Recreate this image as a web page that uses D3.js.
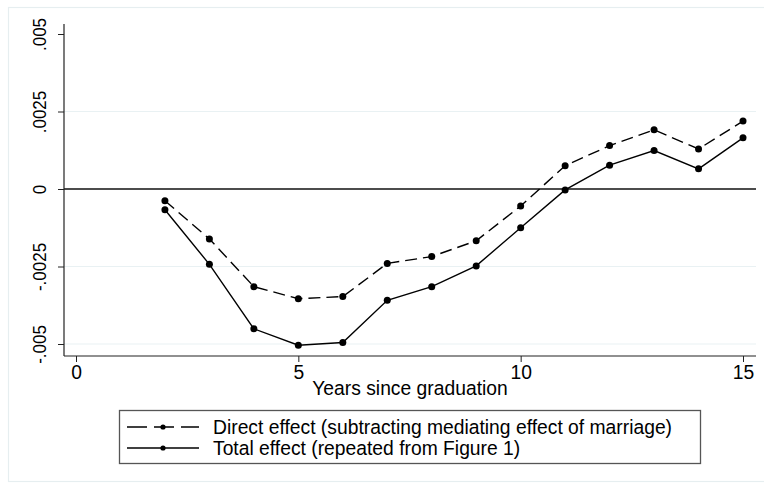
<!DOCTYPE html>
<html>
<head>
<meta charset="utf-8">
<script src="https://cdn.jsdelivr.net/npm/d3@7"></script>
<style>
  html, body { margin: 0; padding: 0; background: #fff; }
  svg { display: block; font-family: "Liberation Sans", Arial, Helvetica, sans-serif; }
</style>
</head>
<body>
<svg id="chart" width="764" height="483"></svg>
<script>
// Years since graduation
const years = [2, 3, 4, 5, 6, 7, 8, 9, 10, 11, 12, 13, 14, 15];

// Direct effect (subtracting mediating effect of marriage)
const directEffect = [-0.00038, -0.00161, -0.00315, -0.00354, -0.00347, -0.0024, -0.00218,
                      -0.00167, -0.00055, 0.00075, 0.0014, 0.00191, 0.00129, 0.00219];

// Total effect (repeated from Figure 1)
const totalEffect = [-0.00067, -0.00243, -0.00451, -0.00504, -0.00495, -0.00359, -0.00315,
                     -0.00248, -0.00125, -0.00003, 0.00077, 0.00124, 0.00065, 0.00165];

const xTicks = [0, 5, 10, 15];
const yTicks = [-0.005, -0.0025, 0, 0.0025, 0.005];
const yTickLabels = ["-.005", "-.0025", "0", ".0025", ".005"];
const yGridTicks = [-0.005, -0.0025, 0.0025];

const seriesNames = [
  "Direct effect (subtracting mediating effect of marriage)",
  "Total effect (repeated from Figure 1)"
];

const svg = d3.select("#chart");
const W = 764, H = 483;

// plot region
const plot = { left: 64, right: 756, top: 24, bottom: 356 };

const x = d3.scaleLinear().domain([0, 15]).range([76, 743]);
const y = d3.scaleLinear().domain([-0.005, 0.005]).range([344, 34]);

const fontSize = 19.3;
const yFontSize = 17;

// outer graph frame
svg.append("rect")
  .attr("x", 8.5).attr("y", 7.5)
  .attr("width", W).attr("height", 474)
  .attr("fill", "none")
  .attr("stroke", "#e6eef0")
  .attr("stroke-width", 1.2);

// horizontal grid lines
svg.append("g")
  .selectAll("line")
  .data(yGridTicks)
  .join("line")
  .attr("x1", plot.left).attr("x2", plot.right)
  .attr("y1", d => y(d)).attr("y2", d => y(d))
  .attr("stroke", "#e9f1f3")
  .attr("stroke-width", 1.2);

// reference line at zero
svg.append("line")
  .attr("x1", plot.left).attr("x2", plot.right)
  .attr("y1", y(0)).attr("y2", y(0))
  .attr("stroke", "#111")
  .attr("stroke-width", 1.3);

// y axis
const yAxis = d3.axisLeft(y)
  .tickValues(yTicks)
  .tickSize(6)
  .tickPadding(0)
  .tickFormat((d, i) => yTickLabels[i]);

const gy = svg.append("g")
  .attr("transform", `translate(${plot.left},0)`)
  .call(yAxis);
gy.select(".domain").remove();
gy.selectAll(".tick line").attr("stroke", "#222").attr("stroke-width", 1);
gy.selectAll(".tick text")
  .attr("x", null).attr("dy", null)
  .attr("transform", "translate(-18,0) rotate(-90) scale(1,1.08)")
  .attr("text-anchor", "middle")
  .attr("fill", "#000")
  .style("font-size", yFontSize + "px")
  .style("font-family", "'Liberation Sans', Arial, Helvetica, sans-serif");
svg.append("line")
  .attr("x1", plot.left).attr("x2", plot.left)
  .attr("y1", plot.top).attr("y2", plot.bottom)
  .attr("stroke", "#222").attr("stroke-width", 1.2);

// x axis
const xAxis = d3.axisBottom(x)
  .tickValues(xTicks)
  .tickSize(6)
  .tickPadding(3)
  .tickFormat(d3.format("d"));

const gx = svg.append("g")
  .attr("transform", `translate(0,${plot.bottom})`)
  .call(xAxis);
gx.select(".domain").remove();
gx.selectAll(".tick line").attr("stroke", "#222").attr("stroke-width", 1);
gx.selectAll(".tick text")
  .attr("fill", "#000")
  .style("font-size", fontSize + "px")
  .style("font-family", "'Liberation Sans', Arial, Helvetica, sans-serif");
svg.append("line")
  .attr("x1", plot.left).attr("x2", plot.right)
  .attr("y1", plot.bottom).attr("y2", plot.bottom)
  .attr("stroke", "#222").attr("stroke-width", 1.2);

// x axis title
svg.append("text")
  .attr("x", (plot.left + plot.right) / 2)
  .attr("y", 395)
  .attr("text-anchor", "middle")
  .attr("fill", "#000")
  .style("font-size", fontSize + "px")
  .text("Years since graduation");

// series
const series = [
  { name: seriesNames[0], values: directEffect, dash: "12,6" },
  { name: seriesNames[1], values: totalEffect, dash: null }
];

const line = d3.line()
  .x(d => x(d[0]))
  .y(d => y(d[1]));

series.forEach(s => {
  const pts = years.map((yr, i) => [yr, s.values[i]]);
  svg.append("path")
    .datum(pts)
    .attr("d", line)
    .attr("fill", "none")
    .attr("stroke", "#000")
    .attr("stroke-width", 1.4)
    .attr("stroke-dasharray", s.dash);
  svg.append("g")
    .selectAll("circle")
    .data(pts)
    .join("circle")
    .attr("cx", d => x(d[0]))
    .attr("cy", d => y(d[1]))
    .attr("r", 3.5)
    .attr("fill", "#000");
});

// legend
const legend = svg.append("g");
legend.append("rect")
  .attr("x", 119.5).attr("y", 410.5)
  .attr("width", 581).attr("height", 53)
  .attr("fill", "#fff")
  .attr("stroke", "#555")
  .attr("stroke-width", 1.3);

const legendRows = [427, 448];
series.forEach((s, i) => {
  const ly = legendRows[i];
  legend.append("line")
    .attr("x1", 127).attr("x2", 199)
    .attr("y1", ly).attr("y2", ly)
    .attr("stroke", "#000")
    .attr("stroke-width", 1.3)
    .attr("stroke-dasharray", s.dash ? "20,7" : null);
  legend.append("circle")
    .attr("cx", 163).attr("cy", ly)
    .attr("r", 2.6)
    .attr("fill", "#000");
  legend.append("text")
    .attr("x", 213)
    .attr("y", ly + 6.5)
    .attr("fill", "#000")
    .style("font-size", fontSize + "px")
    .text(s.name);
});
</script>
</body>
</html>
